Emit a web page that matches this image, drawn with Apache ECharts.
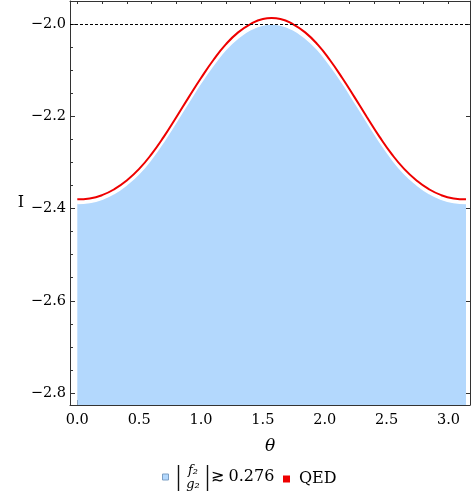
<!DOCTYPE html>
<html><head><meta charset="utf-8">
<script src="https://cdn.jsdelivr.net/npm/echarts@6/dist/echarts.min.js"></script>
<style>html,body{margin:0;padding:0;background:#fff}#c{width:471px;height:495px}</style>
</head><body><div id="c"></div>
<script>
// theta values (x)
const theta = [0,0.1,0.2,0.3,0.4,0.5,0.6,0.7,0.8,0.9,1.0,1.1,1.2,1.3,1.4,1.5,1.5708,
  1.6416,1.7416,1.8416,1.9416,2.0416,2.1416,2.2416,2.3416,2.4416,2.5416,2.6416,2.7416,2.8416,2.9416,3.0416,3.1416];
// QED curve (red)
const qed = [-2.380,-2.378,-2.371,-2.358,-2.339,-2.314,-2.282,-2.244,-2.202,-2.159,-2.117,-2.078,-2.044,-2.018,-2.000,-1.989,-1.987,
  -1.989,-2.000,-2.018,-2.044,-2.078,-2.117,-2.159,-2.202,-2.244,-2.282,-2.314,-2.339,-2.358,-2.371,-2.378,-2.380];
// allowed region upper boundary (blue)
const region = [-2.389,-2.387,-2.380,-2.367,-2.348,-2.324,-2.292,-2.254,-2.212,-2.169,-2.127,-2.089,-2.055,-2.030,-2.012,-2.002,-2.000,
  -2.002,-2.012,-2.030,-2.055,-2.089,-2.127,-2.169,-2.212,-2.254,-2.292,-2.324,-2.348,-2.367,-2.380,-2.387,-2.389];
const refLevel = -2.0;
const xMajor = [0,0.5,1.0,1.5,2.0,2.5,3.0];
const xMinor = [0.1,0.2,0.3,0.4,0.6,0.7,0.8,0.9,1.1,1.2,1.3,1.4,1.6,1.7,1.8,1.9,2.1,2.2,2.3,2.4,2.6,2.7,2.8,2.9,3.1];
const xTop = [0,0.2,0.4,0.6,0.8,1.0,1.2,1.4,1.6,1.8,2.0,2.2,2.4,2.6,2.8,3.0];
const yMajor = [-2.8,-2.6,-2.4,-2.2,-2.0];
const yMinor = [-2.75,-2.7,-2.65,-2.55,-2.5,-2.45,-2.35,-2.3,-2.25,-2.15,-2.1,-2.05];
const regionName = 'region';
const qedName = 'QED';

const FONT = 'DejaVu Serif';
const X_MIN = -0.059, X_MAX = 3.174, Y_MIN = -2.826, Y_MAX = -1.950;
const frame = '#333';
const txt = '#000';
const fmt = v => v.toFixed(1).replace('-', '\u2212');

const baseX = {type:'value', min:X_MIN, max:X_MAX, splitLine:{show:false}, gridIndex:0};
const baseY = {type:'value', min:Y_MIN, max:Y_MAX, splitLine:{show:false}, gridIndex:0};

const chart = echarts.init(document.getElementById('c'), null, {renderer:'canvas'});
chart.setOption({
  animation:false,
  backgroundColor:'#fff',
  grid:{left:70, right:1, top:1, bottom:90, containLabel:false},
  xAxis:[
    Object.assign({}, baseX, {position:'bottom', name:'\u03b8', nameLocation:'middle', nameGap:33,
      nameTextStyle:{fontFamily:FONT, fontStyle:'italic', fontSize:17, color:txt},
      axisLine:{show:true, onZero:false, lineStyle:{color:frame, width:1}},
      axisTick:{show:true, inside:true, length:5, customValues:xMajor, lineStyle:{color:frame}},
      axisLabel:{show:true, customValues:xMajor, formatter:fmt, margin:8, fontFamily:FONT, fontSize:14.5, color:txt}}),
    Object.assign({}, baseX, {position:'bottom',
      axisLine:{show:false, onZero:false},
      axisTick:{show:true, inside:true, length:3, customValues:xMinor, lineStyle:{color:frame}},
      axisLabel:{show:false}}),
    Object.assign({}, baseX, {position:'top',
      axisLine:{show:true, onZero:false, lineStyle:{color:frame, width:1}},
      axisTick:{show:true, inside:true, length:3, customValues:xTop, lineStyle:{color:frame}},
      axisLabel:{show:false}})
  ],
  yAxis:[
    Object.assign({}, baseY, {position:'left', name:'I', nameLocation:'middle', nameGap:46, nameRotate:0,
      nameTextStyle:{fontFamily:FONT, fontSize:16, color:txt},
      axisLine:{show:true, onZero:false, lineStyle:{color:frame, width:1}},
      axisTick:{show:true, inside:true, length:5, customValues:yMajor, lineStyle:{color:frame}},
      axisLabel:{show:true, customValues:yMajor, formatter:fmt, margin:4, fontFamily:FONT, fontSize:14.5, color:txt}}),
    Object.assign({}, baseY, {position:'left',
      axisLine:{show:false, onZero:false},
      axisTick:{show:true, inside:true, length:3, customValues:yMinor, lineStyle:{color:frame}},
      axisLabel:{show:false}}),
    Object.assign({}, baseY, {position:'right',
      axisLine:{show:true, onZero:false, lineStyle:{color:frame, width:1}},
      axisTick:{show:true, inside:true, length:4, customValues:yMajor, lineStyle:{color:frame}},
      axisLabel:{show:false}})
  ],
  legend:[
    {left:162, top:469, padding:0, icon:'rect', itemWidth:6, itemHeight:6, itemGap:0, selectedMode:false,
     data:[{name:regionName, itemStyle:{color:'#b3d8fd', borderColor:'#7d9fc4', borderWidth:1}}],
     formatter:()=>'{sp|}{t|\u2273 0.276}',
     textStyle:{fontFamily:FONT, fontSize:16, color:txt, rich:{sp:{width:37}, t:{fontFamily:FONT, fontSize:16, color:txt}}}},
    {left:283, top:471, padding:0, icon:'rect', itemWidth:7, itemHeight:7, itemGap:0, selectedMode:false,
     data:[{name:qedName, itemStyle:{color:'#ee0000'}}],
     textStyle:{fontFamily:FONT, fontSize:16, color:txt, padding:[0,0,0,4]}}
  ],
  graphic:[
    {type:'line', shape:{x1:178.5, y1:465, x2:178.5, y2:491}, style:{stroke:'#111', lineWidth:1.4}, silent:true},
    {type:'line', shape:{x1:207.5, y1:465, x2:207.5, y2:491}, style:{stroke:'#111', lineWidth:1.4}, silent:true},
    {type:'text', x:193, y:471, style:{text:'f\u2082', fontFamily:FONT, fontStyle:'italic', fontSize:13, fill:txt, align:'center', verticalAlign:'middle'}, silent:true},
    {type:'text', x:193, y:485, style:{text:'g\u2082', fontFamily:FONT, fontStyle:'italic', fontSize:13, fill:txt, align:'center', verticalAlign:'middle'}, silent:true}
  ],
  series:[
    {name:regionName, type:'line', xAxisIndex:0, yAxisIndex:0, smooth:true, showSymbol:false, symbol:'none',
     data: theta.map((t,i)=>[t, region[i]]),
     lineStyle:{color:'#ffffff', width:1.6},
     itemStyle:{color:'#b3d8fd'},
     areaStyle:{color:'#b3d8fd', opacity:1, origin:'start'}, z:2},
    {name:qedName, type:'line', xAxisIndex:0, yAxisIndex:0, smooth:true, showSymbol:false, symbol:'none',
     data: theta.map((t,i)=>[t, qed[i]]),
     lineStyle:{color:'#ee0000', width:2},
     itemStyle:{color:'#ee0000'}, z:4,
     markLine:{silent:true, symbol:'none', label:{show:false}, animation:false,
       lineStyle:{color:'#000', type:[3,2], width:1}, data:[{yAxis:refLevel}]}}
  ]
});
</script></body></html>
